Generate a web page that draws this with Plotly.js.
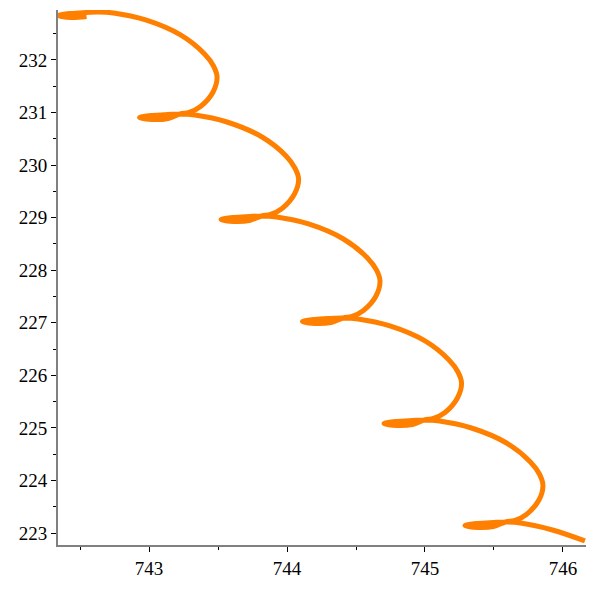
<!DOCTYPE html>
<html>
<head>
<meta charset="utf-8">
<script src="https://cdn.plot.ly/plotly-3.0.1.min.js"></script>
<style>html,body{margin:0;padding:0;background:#fff;}#chart{width:596px;height:596px;}</style>
</head>
<body>
<div id="chart"></div>
<script>
// Curve points (x, y in data units)
var curveX = [
  742.547, 742.431, 742.341, 742.431, 742.547, 742.634,
  742.743, 742.975, 743.228, 743.402, 743.467, 743.493, 743.464, 743.373, 743.290,
  743.225, 743.138, 743.022, 742.931, 743.022, 743.138, 743.225,
  743.333, 743.565, 743.819, 743.993, 744.057, 744.084, 744.054, 743.964, 743.880,
  743.815, 743.728, 743.612, 743.522, 743.612, 743.728, 743.815,
  743.924, 744.156, 744.409, 744.583, 744.648, 744.674, 744.645, 744.554, 744.471,
  744.406, 744.319, 744.203, 744.112, 744.203, 744.319, 744.406,
  744.514, 744.746, 745.000, 745.174, 745.239, 745.265, 745.235, 745.145, 745.061,
  744.996, 744.909, 744.793, 744.703, 744.793, 744.909, 744.996,
  745.105, 745.337, 745.591, 745.764, 745.829, 745.855, 745.826, 745.735, 745.652,
  745.583, 745.496, 745.380, 745.290, 745.380, 745.496, 745.583,
  745.692, 745.924, 746.159
];
var curveY = [
  232.828, 232.809, 232.847, 232.885, 232.904, 232.913,
  232.894, 232.761, 232.476, 232.114, 231.886, 231.677, 231.391, 231.115, 231.002,
  230.973, 230.888, 230.868, 230.906, 230.944, 230.963, 230.973,
  230.954, 230.820, 230.535, 230.174, 229.945, 229.736, 229.450, 229.175, 229.061,
  229.032, 228.947, 228.928, 228.965, 229.003, 229.022, 229.032,
  229.013, 228.880, 228.594, 228.233, 228.005, 227.795, 227.509, 227.234, 227.120,
  227.091, 227.006, 226.987, 227.025, 227.063, 227.082, 227.091,
  227.072, 226.939, 226.654, 226.292, 226.064, 225.855, 225.569, 225.293, 225.180,
  225.151, 225.066, 225.047, 225.084, 225.122, 225.141, 225.151,
  225.132, 224.998, 224.713, 224.352, 224.123, 223.914, 223.628, 223.353, 223.239,
  223.210, 223.125, 223.106, 223.143, 223.181, 223.200, 223.210,
  223.191, 223.058, 222.849
];
var xTicks = [743, 744, 745, 746];
var yTicks = [223, 224, 225, 226, 227, 228, 229, 230, 231, 232];

var trace = {
  x: curveX, y: curveY, type: 'scatter', mode: 'lines',
  line: {color: '#ff8000', width: 5, shape: 'spline', smoothing: 1},
  hoverinfo: 'skip'
};
var serif = 'Liberation Serif, Times New Roman, Times, serif';
var tickFont = {family: serif, size: 19, color: '#000'};
var layout = {
  width: 596, height: 596,
  margin: {l: 58, r: 10, t: 10, b: 51},
  font: {family: serif, size: 19, color: '#000'},
  paper_bgcolor: '#fff', plot_bgcolor: '#fff',
  showlegend: false,
  xaxis: {
    range: [742.34, 746.167], tickvals: xTicks, ticktext: xTicks.map(String),
    showline: true, linecolor: '#808080', linewidth: 2,
    ticks: 'outside', ticklen: 5, tickcolor: '#000', tickwidth: 1,
    minor: {dtick: 0.5, tick0: 742.5, ticks: 'outside', ticklen: 3, tickcolor: '#000', tickwidth: 1, showgrid: false},
    showgrid: false, zeroline: false, tickfont: tickFont
  },
  yaxis: {
    range: [222.772, 232.951], tickvals: yTicks, ticktext: yTicks.map(String),
    showline: true, linecolor: '#808080', linewidth: 2,
    ticks: 'outside', ticklen: 5, tickcolor: '#000', tickwidth: 1,
    minor: {dtick: 0.5, tick0: 222.5, ticks: 'outside', ticklen: 3, tickcolor: '#000', tickwidth: 1, showgrid: false},
    showgrid: false, zeroline: false, tickfont: tickFont
  }
};
Plotly.newPlot('chart', [trace], layout, {displayModeBar: false, staticPlot: true});
</script>
</body>
</html>
